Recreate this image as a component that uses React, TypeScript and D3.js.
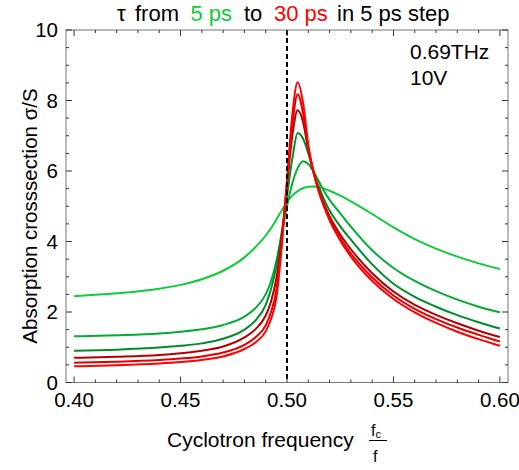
import React from "react";
import * as d3 from "d3";

const xs = [0.40, 0.42, 0.44, 0.45, 0.46, 0.47, 0.48, 0.485, 0.49, 0.4925, 0.495, 0.4975, 0.50, 0.5025, 0.505, 0.5075, 0.51, 0.5125, 0.515, 0.5175, 0.52, 0.525, 0.53, 0.54, 0.55, 0.56, 0.57, 0.58, 0.59, 0.60];

const tau5 = [2.45, 2.53, 2.66, 2.77, 2.93, 3.17, 3.55, 3.83, 4.17, 4.38, 4.62, 4.88, 5.12, 5.30, 5.43, 5.51, 5.55, 5.56, 5.54, 5.50, 5.44, 5.30, 5.14, 4.78, 4.40, 4.07, 3.80, 3.57, 3.38, 3.22];
const tau10 = [1.31, 1.34, 1.39, 1.44, 1.51, 1.63, 1.87, 2.10, 2.50, 2.88, 3.45, 4.20, 5.00, 5.65, 6.08, 6.28, 6.20, 5.98, 5.70, 5.42, 5.18, 4.80, 4.42, 3.75, 3.25, 2.88, 2.59, 2.35, 2.15, 1.99];
const tau15 = [0.90, 0.93, 0.99, 1.04, 1.11, 1.24, 1.50, 1.75, 2.20, 2.65, 3.30, 4.25, 5.30, 6.35, 7.08, 6.92, 6.50, 6.00, 5.55, 5.18, 4.88, 4.43, 4.05, 3.35, 2.80, 2.43, 2.15, 1.91, 1.71, 1.53];
const tau20 = [0.70, 0.73, 0.78, 0.83, 0.90, 1.02, 1.28, 1.50, 1.90, 2.30, 2.95, 4.10, 5.60, 7.00, 7.72, 7.40, 6.60, 5.95, 5.45, 5.05, 4.72, 4.20, 3.78, 3.10, 2.58, 2.20, 1.92, 1.68, 1.47, 1.29];
const tau25 = [0.56, 0.59, 0.64, 0.68, 0.74, 0.85, 1.07, 1.27, 1.62, 2.00, 2.62, 3.95, 5.65, 7.30, 8.18, 7.65, 6.65, 5.95, 5.42, 5.00, 4.65, 4.10, 3.66, 2.98, 2.47, 2.09, 1.80, 1.56, 1.35, 1.16];
const tau30 = [0.46, 0.49, 0.54, 0.58, 0.64, 0.74, 0.95, 1.13, 1.45, 1.80, 2.40, 3.85, 5.75, 7.60, 8.52, 7.95, 6.75, 5.97, 5.40, 4.97, 4.60, 4.03, 3.57, 2.88, 2.37, 1.99, 1.69, 1.44, 1.23, 1.04];

const seriesValues = [tau5, tau10, tau15, tau20, tau25, tau30];
const seriesColors = ["#10cc3a", "#00ae34", "#008c2a", "#b00000", "#e00000", "#ff0000"];

const xTickLabels = ["0.40", "0.45", "0.50", "0.55", "0.60"];
const yTickLabels = ["0", "2", "4", "6", "8", "10"];

export default function App() {
  const W = 519, H = 470;
  const left = 66, right = 508, top = 30, bottom = 382.5;
  const x = d3.scaleLinear().domain([0.3962, 0.6038]).range([left, right]);
  const y = d3.scaleLinear().domain([0, 10]).range([bottom, top]);
  const line = d3.line<number>()
    .x((_, i) => x(xs[i]))
    .y((d) => y(d))
    .curve(d3.curveMonotoneX);

  const xMajor = xTickLabels.map(Number);
  const xMinor = d3.range(0, 21).map((i) => 0.40 + i * 0.01).filter((v) => Math.round(v * 100) % 5 !== 0);
  const yMajor = yTickLabels.map(Number);
  const yMinor = d3.range(0, 21).map((i) => i * 0.5).filter((v) => v % 2 !== 0);

  const font = "'Liberation Sans', Arial, sans-serif";
  const tickColor = "#333";

  return (
    <svg width={W} height={H} style={{ position: "absolute", left: 0, top: 0 }} fontFamily={font}>
      <rect x={0} y={0} width={W} height={H} fill="#fff" />
      <defs>
        <clipPath id="clip">
          <rect x={left} y={top} width={right - left} height={bottom - top} />
        </clipPath>
      </defs>
      <g clipPath="url(#clip)">
        {seriesValues.map((vals, i) => (
          <path key={i} d={line(vals) || ""} fill="none" stroke={seriesColors[i]} strokeWidth={2} />
        ))}
      </g>
      <line x1={x(0.5)} x2={x(0.5)} y1={top} y2={bottom} stroke="#000" strokeWidth={2} strokeDasharray="5,3" />
      <rect x={left} y={top} width={right - left} height={bottom - top} fill="none" stroke="#777" strokeWidth={1} />
      {xMajor.map((v) => (
        <g key={"xM" + v}>
          <line x1={x(v)} x2={x(v)} y1={bottom} y2={bottom - 6} stroke={tickColor} />
          <line x1={x(v)} x2={x(v)} y1={top} y2={top + 6} stroke={tickColor} />
        </g>
      ))}
      {xMinor.map((v) => (
        <g key={"xm" + v}>
          <line x1={x(v)} x2={x(v)} y1={bottom} y2={bottom - 3} stroke={tickColor} />
          <line x1={x(v)} x2={x(v)} y1={top} y2={top + 3} stroke={tickColor} />
        </g>
      ))}
      {yMajor.map((v) => (
        <g key={"yM" + v}>
          <line x1={left} x2={left + 6} y1={y(v)} y2={y(v)} stroke={tickColor} />
          <line x1={right} x2={right - 6} y1={y(v)} y2={y(v)} stroke={tickColor} />
        </g>
      ))}
      {yMinor.map((v) => (
        <g key={"ym" + v}>
          <line x1={left} x2={left + 3} y1={y(v)} y2={y(v)} stroke={tickColor} />
          <line x1={right} x2={right - 3} y1={y(v)} y2={y(v)} stroke={tickColor} />
        </g>
      ))}
      {xTickLabels.map((t) => (
        <text key={"xl" + t} x={x(Number(t))} y={407} textAnchor="middle" fontSize={20.5} fill="#000">{t}</text>
      ))}
      {yTickLabels.map((t) => (
        <text key={"yl" + t} x={58} y={y(Number(t)) + 7} textAnchor="end" fontSize={20.5} fill="#000">{t}</text>
      ))}
      <text transform="translate(37,216) rotate(-90)" textAnchor="middle" fontSize={20.5} fill="#000">
        Absorption crosssection σ/S
      </text>
      <text x={167} y={447} fontSize={21} fill="#000">Cyclotron frequency</text>
      <text x={371} y={436} fontSize={16} fill="#000">f<tspan fontSize={11} dy={2}>c</tspan></text>
      <line x1={369} x2={387} y1={440.5} y2={440.5} stroke="#000" strokeWidth={1} />
      <text x={373} y={462} fontSize={16} fill="#000">f</text>
      <text y={21} fontSize={22} fill="#000">
        <tspan x={117}>τ</tspan>
        <tspan x={135}>from</tspan>
        <tspan x={190.5} fill="#10cc3a">5 ps</tspan>
        <tspan x={244}>to</tspan>
        <tspan x={274} fill="#ff0000">30 ps</tspan>
        <tspan x={337}>in 5 ps step</tspan>
      </text>
      <text x={410} y={59} fontSize={21} fill="#000">0.69THz</text>
      <text x={410} y={85} fontSize={21} fill="#000">10V</text>
    </svg>
  );
}
